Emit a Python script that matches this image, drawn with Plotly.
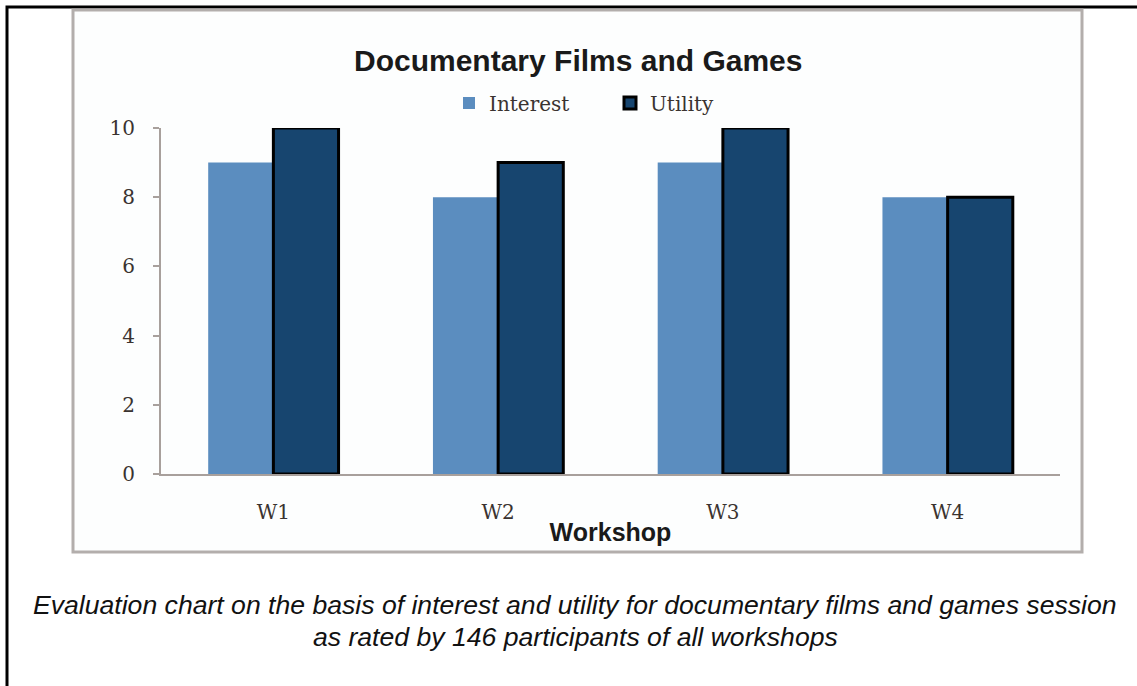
import plotly.graph_objects as go

workshops = ["W1", "W2", "W3", "W4"]
interest = [9, 8, 9, 8]
utility = [10, 9, 10, 8]
y_ticks = [0, 2, 4, 6, 8, 10]

W, H = 1137, 686
L, R, T, B = 161, 1060, 128, 474  # plot area pixel bounds


def px(x):
    return (x - L) / (R - L)


def py(y):
    return (B - y) / (B - T)


serif = "DejaVu Serif, Cambria, serif"
sans = "Liberation Sans, Arial, sans-serif"

fig = go.Figure()
fig.add_trace(go.Bar(
    name="Interest", x=workshops, y=interest,
    marker=dict(color="#5b8dbf", line=dict(width=0)),
))
fig.add_trace(go.Bar(
    name="Utility", x=workshops, y=utility,
    marker=dict(color="#17456f", line=dict(color="#000000", width=3)),
))

fig.update_layout(
    width=W, height=H,
    margin=dict(l=L, r=W - R, t=T, b=H - B),
    paper_bgcolor="white", plot_bgcolor="white",
    barmode="group", bargap=0.42, bargroupgap=0,
    showlegend=True,
    legend=dict(
        orientation="h", x=px(449), y=py(103), xanchor="left", yanchor="middle",
        font=dict(family=serif, size=20, color="#3a3330"),
        bgcolor="rgba(0,0,0,0)", itemwidth=30, traceorder="normal",
        entrywidth=116, entrywidthmode="pixels",
    ),
    xaxis=dict(
        showline=True, linecolor="#a8a09c", linewidth=2, ticks="",
        showgrid=False, zeroline=False,
        tickfont=dict(family=serif, size=20, color="#3a3330"),
        ticklabelstandoff=19,
        title=dict(text="<b>Workshop</b>", font=dict(family=sans, size=25, color="#1a1a1a"),
                   standoff=0),
    ),
    yaxis=dict(
        range=[0, 10], tickvals=y_ticks, showline=True, linecolor="#a8a09c", linewidth=2,
        ticks="outside", ticklen=6, tickwidth=2, tickcolor="#a8a09c",
        showgrid=False, zeroline=False,
        tickfont=dict(family=serif, size=20, color="#3a3330"),
        ticklabelstandoff=14,
    ),
    shapes=[
        # outer black frame
        dict(type="rect", xref="paper", yref="paper", x0=px(7), x1=px(1145), y0=py(7), y1=py(700),
             line=dict(color="black", width=3), fillcolor="rgba(0,0,0,0)", layer="below"),
        # chart box
        dict(type="rect", xref="paper", yref="paper", x0=px(73), x1=px(1082), y0=py(10), y1=py(552),
             line=dict(color="#b3aeac", width=3), fillcolor="#fdfefe", layer="below"),
    ],
    annotations=[
        dict(text="<b>Documentary Films and Games</b>", xref="paper", yref="paper",
             x=px(578), y=py(60), xanchor="center", yanchor="middle", showarrow=False,
             font=dict(family=sans, size=30, color="#1a1a1a")),
        dict(text="<i>Evaluation chart on the basis of interest and utility for documentary films and games session</i>",
             xref="paper", yref="paper", x=px(575), y=py(605), xanchor="center", yanchor="middle",
             showarrow=False, font=dict(family=sans, size=26.6, color="#111111")),
        dict(text="<i>as rated by 146 participants of all workshops</i>",
             xref="paper", yref="paper", x=px(575), y=py(637), xanchor="center", yanchor="middle",
             showarrow=False, font=dict(family=sans, size=26.6, color="#111111")),
    ],
)

fig.write_html("out.html", config={"displayModeBar": False},
               post_script="document.body.style.margin='0px';")
